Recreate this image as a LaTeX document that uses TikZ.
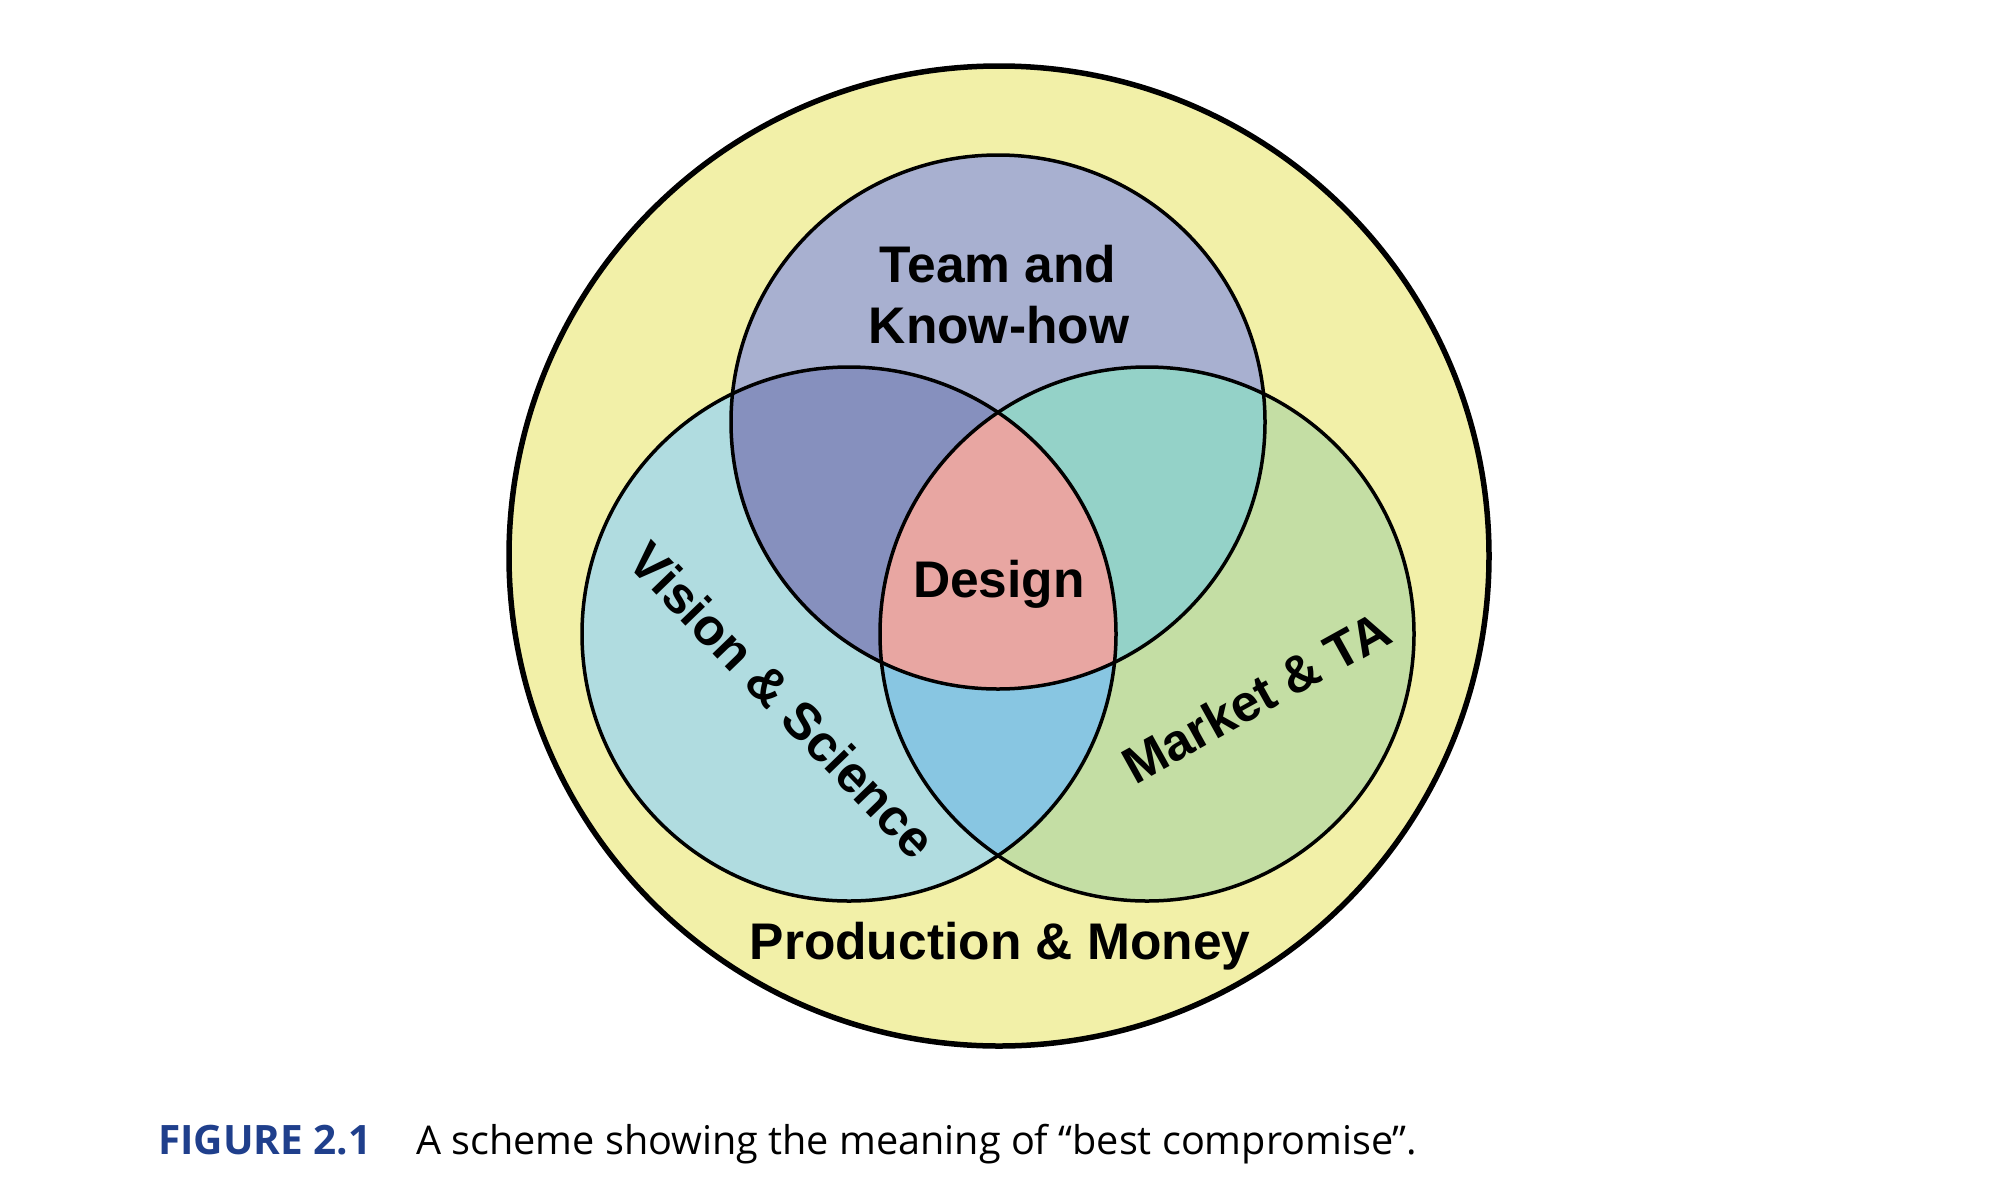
\documentclass[tikz,border=0pt]{standalone}
\usepackage{fontspec}
\setmainfont{Liberation Sans}
\newfontfamily\capfont{Open Sans}
\definecolor{cyel}{HTML}{F2F0A8}
\definecolor{ctop}{HTML}{A8B0D0}
\definecolor{cleft}{HTML}{B0DCE0}
\definecolor{cright}{HTML}{C4DEA4}
\definecolor{ctl}{HTML}{8690BE}
\definecolor{ctr}{HTML}{94D2C8}
\definecolor{clr}{HTML}{88C6E2}
\definecolor{cmid}{HTML}{E8A6A2}
\definecolor{capblue}{HTML}{1F3F8C}
\begin{document}
\begin{tikzpicture}[x=1pt,y=-1pt,
  lbl/.style={font=\bfseries\fontsize{51.5}{60}\selectfont, inner sep=0pt},
  ring/.style={draw=black, line width=3.5pt},
  capt/.style={font=\capfont\fontsize{39.6}{44}\selectfont, inner sep=0pt, anchor=base west}]
\useasboundingbox (0,0) rectangle (2000,1189);
\fill[white] (0,0) rectangle (2000,1189);
\coordinate (O) at (999,556);
\coordinate (T) at (998,422);
\coordinate (L) at (849,634);
\coordinate (R) at (1147,634);
% fills
\fill[cyel] (O) circle (490);
\fill[ctop] (T) circle (267);
\fill[cleft] (L) circle (267);
\fill[cright] (R) circle (267);
\begin{scope}
  \clip (T) circle (267);
  \fill[ctl] (L) circle (267);
  \fill[ctr] (R) circle (267);
\end{scope}
\begin{scope}
  \clip (L) circle (267);
  \fill[clr] (R) circle (267);
  \clip (R) circle (267);
  \fill[cmid] (T) circle (267);
\end{scope}
% outlines
\draw[draw=black, line width=5.5pt] (O) circle (490);
\draw[ring] (T) circle (267);
\draw[ring] (L) circle (267);
\draw[ring] (R) circle (267);
% labels
\node[lbl, anchor=base] (team) at (998,282) {Team and};
\node[lbl, anchor=base] (know) at (999,343) {Know-how};
\node[lbl, anchor=base] (design) at (999,597) {Design};
\node[lbl, anchor=base] (prod) at (1000,959) {Production \& Money};
\node[lbl, rotate=-46] (vision) at (783,700) {Vision \& Science};
\node[lbl, rotate=29] (market) at (1256,697) {Market \& TA};
% caption
\node[capt, font=\capfont\bfseries\fontsize{40.5}{44}\selectfont, text=capblue] (fig) at (158,1154) {FIGURE 2.1};
\node[capt] (captext) at (416,1154) {A scheme showing the meaning of “best compromise”.};
\end{tikzpicture}
\end{document}
